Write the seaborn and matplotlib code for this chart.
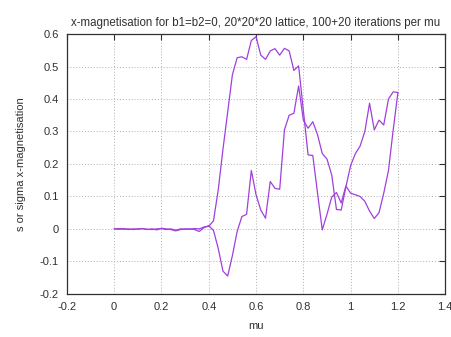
import numpy as np
import pandas as pd
import matplotlib
matplotlib.use("Agg")
import matplotlib.pyplot as plt
import seaborn as sns

# chemical potential grid
mu = [round(0.02 * i, 2) for i in range(61)]

# sweep that reaches the high plateau
mag_up = [0.000, -0.001, 0.001, -0.002, 0.000, -0.001, 0.001, -0.002, 0.000, -0.003,
          0.002, 0.000, -0.002, -0.006, -0.002, 0.000, -0.001, 0.001, 0.000, 0.006,
          0.008, 0.025, 0.120, 0.245, 0.360, 0.475, 0.527, 0.530, 0.522, 0.580,
          0.592, 0.535, 0.522, 0.548, 0.555, 0.535, 0.556, 0.548, 0.488, 0.502,
          0.365, 0.228, 0.226, 0.110, -0.003, 0.045, 0.098, 0.112, 0.080, 0.132,
          0.110, 0.105, 0.100, 0.085, 0.055, 0.032, 0.050, 0.110, 0.180, 0.305,
          0.420]

# sweep with the negative dip
mag_down = [0.000, 0.001, -0.001, 0.000, -0.002, 0.000, 0.001, -0.001, -0.002, 0.000,
            0.001, -0.002, 0.000, -0.004, 0.000, -0.001, 0.000, -0.002, -0.008, 0.004,
            0.010, -0.005, -0.060, -0.130, -0.145, -0.082, -0.008, 0.038, 0.045, 0.180,
            0.105, 0.058, 0.033, 0.146, 0.125, 0.122, 0.305, 0.350, 0.356, 0.440,
            0.335, 0.310, 0.330, 0.290, 0.232, 0.215, 0.166, 0.060, 0.058, 0.130,
            0.195, 0.232, 0.255, 0.300, 0.387, 0.305, 0.335, 0.320, 0.400, 0.422,
            0.420]

df = pd.concat([
    pd.DataFrame({"mu": mu, "m": mag_up, "sweep": "s"}),
    pd.DataFrame({"mu": mu, "m": mag_down, "sweep": "sigma"}),
])

sns.set_theme(style="white")
plt.rcParams["font.family"] = ["Liberation Sans", "DejaVu Sans"]

fig = plt.figure(figsize=(4.52, 3.37), dpi=100)
ax = fig.add_axes([0.148, 0.128, 0.837, 0.771])

sns.lineplot(data=df, x="mu", y="m", hue="sweep", sort=False,
             palette=["#a040dc", "#a040dc"], linewidth=0.9, legend=False, ax=ax)

ax.set_xlim(-0.2, 1.4)
ax.set_ylim(-0.2, 0.6)
ax.set_xticks(np.arange(-0.2, 1.41, 0.2))
ax.set_yticks(np.arange(-0.2, 0.61, 0.1))
ax.set_xticklabels(["-0.2", "0", "0.2", "0.4", "0.6", "0.8", "1", "1.2", "1.4"])
ax.set_yticklabels(["-0.2", "-0.1", "0", "0.1", "0.2", "0.3", "0.4", "0.5", "0.6"])

ax.grid(True, color="#b0b0b0", linestyle=(0, (1, 2)), linewidth=0.7)
for s in ax.spines.values():
    s.set_color("#303030")
    s.set_linewidth(0.9)
ax.tick_params(direction="in", length=4, width=0.8, color="#303030",
               top=True, right=True, labelsize=8, labelcolor="#303030", pad=6)

ax.set_title("x-magnetisation for b1=b2=0, 20*20*20 lattice, 100+20 iterations per mu",
             fontsize=8.3, color="#303030", pad=6)
ax.set_xlabel("mu", fontsize=8, color="#303030", labelpad=6)
ax.set_ylabel("s or sigma x-magnetisation", fontsize=8, color="#303030", labelpad=10)

fig.savefig("out.png", dpi=100)
